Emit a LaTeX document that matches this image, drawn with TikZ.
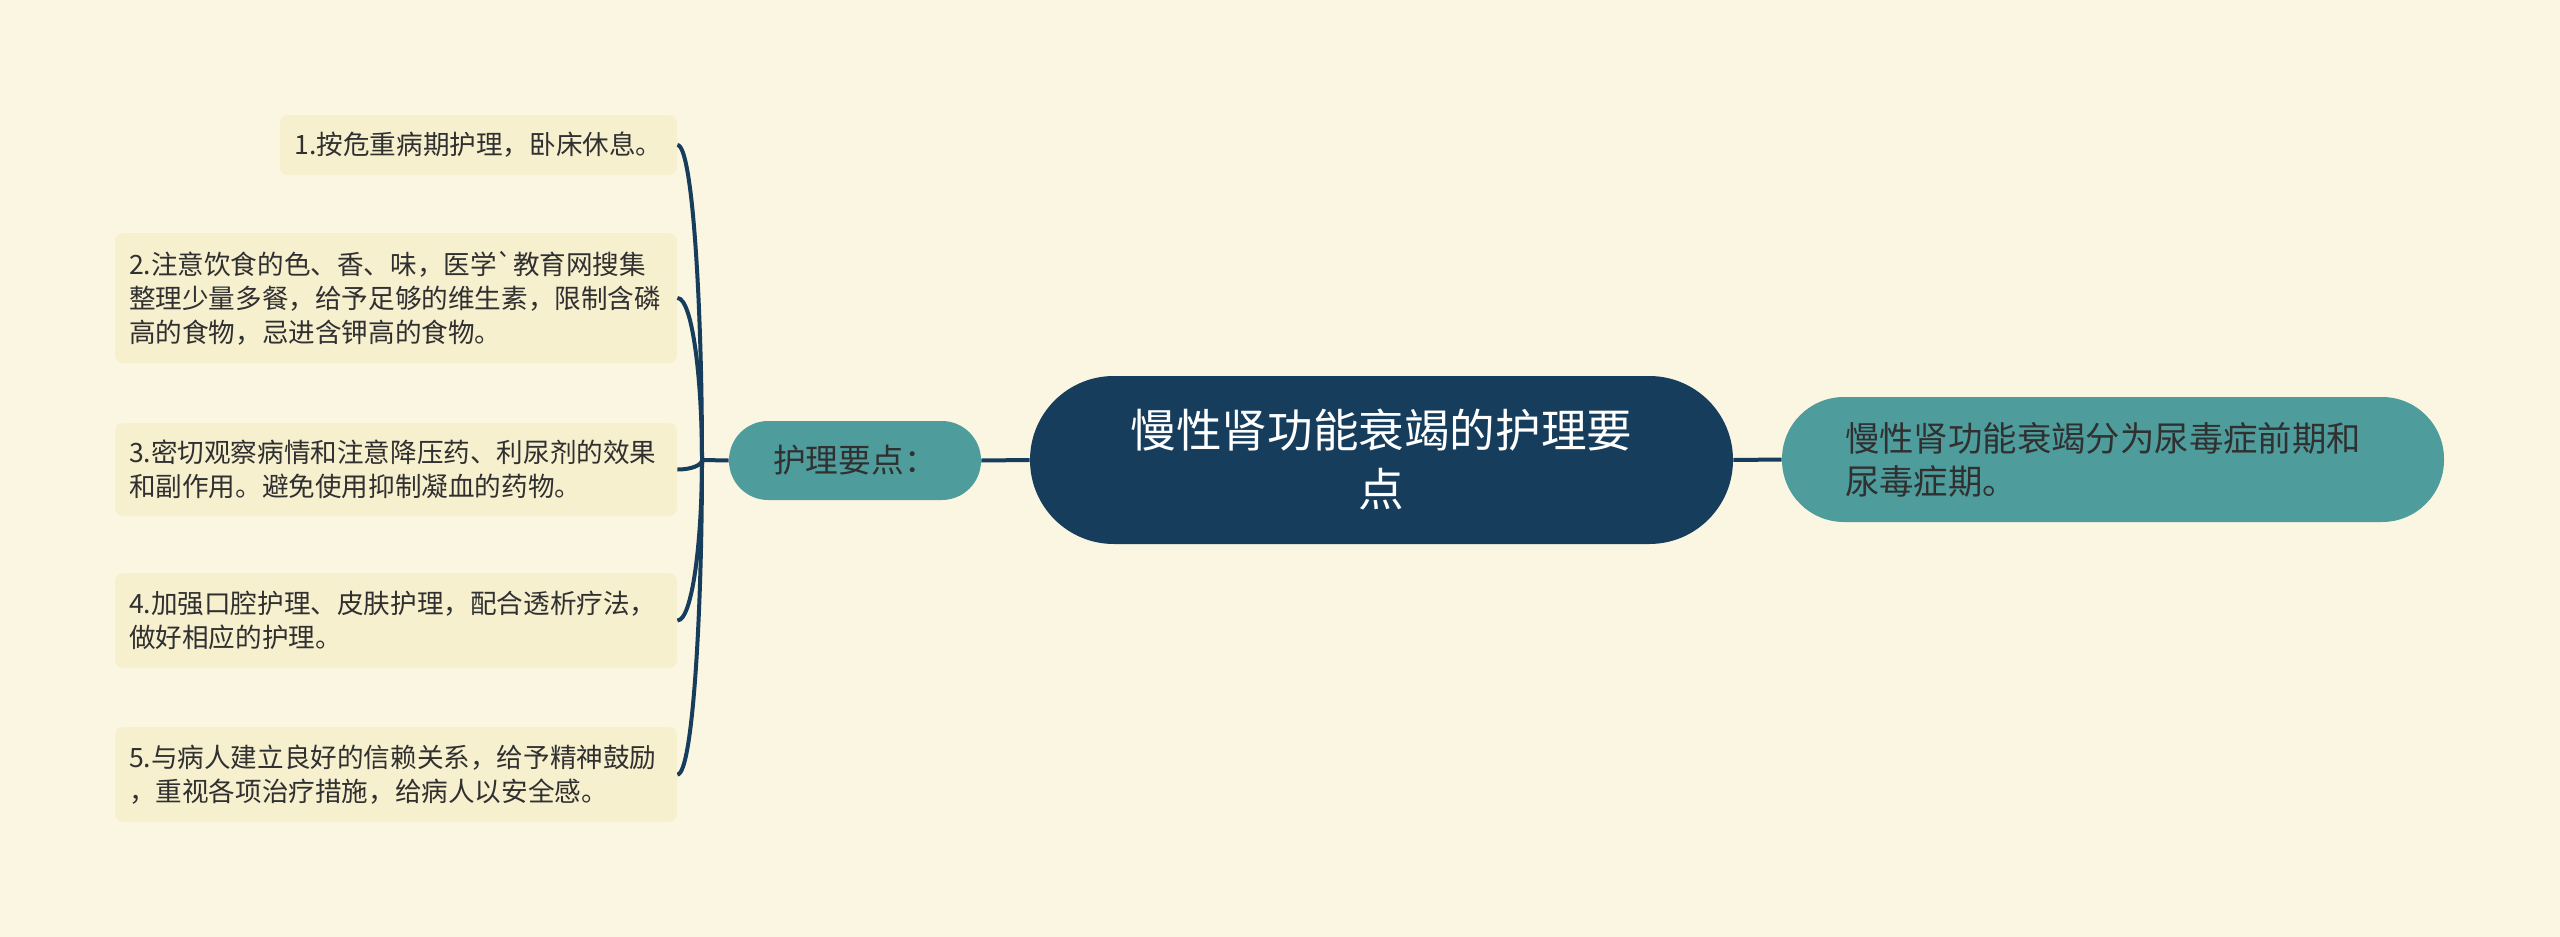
\documentclass[tikz,border=0pt]{standalone}
\usepackage{fontspec}
\setmainfont{Noto Sans CJK SC}
\newfontfamily\plainfont{Noto Sans CJK SC}
\definecolor{bgc}{HTML}{FBF6E1}
\definecolor{leafc}{HTML}{F6F0CF}
\definecolor{navy}{HTML}{173D5C}
\definecolor{teal}{HTML}{4E9C9C}
\definecolor{txt}{HTML}{303030}
\tikzset{
  conn/.style={draw=navy, line width=2pt},
  leaf/.style={fill=leafc, rounded corners=4pt, text=txt, inner sep=0pt,
    font=\fontsize{13.3pt}{17pt}\selectfont},
  leafwide/.style={leaf, align=left, text width=267pt, minimum width=281pt},
  rootbox/.style={fill=navy, rounded corners=41.9pt, text=white, inner sep=0pt,
    minimum width=351.5pt, minimum height=84pt, align=center,
    font=\fontsize{22.8pt}{29.5pt}\selectfont},
  subbox/.style={fill=teal, text=txt, inner sep=0pt}
}
\begin{document}
\begin{tikzpicture}[x=0.5pt,y=-0.5pt]
\useasboundingbox (0,0) rectangle (2560,937);
\fill[bgc] (0,0) rectangle (2560,937);

% root
\node[rootbox] (root) at (1381.5,460) {慢性肾功能衰竭的护理要\\点};

% right sub node
\node[subbox, rounded corners=31pt, minimum width=331pt, minimum height=62.5pt,
      text width=268pt, align=left, font=\fontsize{17.2pt}{21.5pt}\selectfont]
      (right) at (2113,459.5) {慢性肾功能衰竭分为尿毒症前期和\\尿毒症期。};

% left sub node
\node[subbox, rounded corners=19.6pt, minimum width=126pt, minimum height=39.5pt,
      align=center, font=\fontsize{16.35pt}{20pt}\selectfont]
      (key) at (855,460.5) {护理要点：};

% leaves
\node[leaf, minimum width=198.5pt, minimum height=30pt, align=center]
      (l1) at (478.5,145) {1.按危重病期护理，卧床休息。};
\node[leafwide, minimum height=65pt] (l2) at (396,298)
      {2.注意饮食的色、香、味，医学{\plainfont`}教育网搜集\\整理少量多餐，给予足够的维生素，限制含磷\\高的食物，忌进含钾高的食物。};
\node[leafwide, minimum height=46.5pt] (l3) at (396,469.5)
      {3.密切观察病情和注意降压药、利尿剂的效果\\和副作用。避免使用抑制凝血的药物。};
\node[leafwide, minimum height=47.5pt] (l4) at (396,620.5)
      {4.加强口腔护理、皮肤护理，配合透析疗法，\\做好相应的护理。};
\node[leafwide, minimum height=47.5pt] (l5) at (396,774.5)
      {5.与病人建立良好的信赖关系，给予精神鼓励\\，重视各项治疗措施，给病人以安全感。};

\coordinate (hub) at (702,460);

% connectors
\draw[conn] (root.west) -- (key.east);
\draw[conn] (root.east) -- (right.west);
\draw[conn] (key.west) -- (hub);
\draw[conn] (l1.east) .. controls +(15,0) and +(0,-157.5) .. (hub);
\draw[conn] (l2.east) .. controls +(15,0) and +(0,-81) .. (hub);
\draw[conn] (l3.east) .. controls +(15,0) and +(0,4.75) .. (hub);
\draw[conn] (l4.east) .. controls +(15,0) and +(0,80.25) .. (hub);
\draw[conn] (l5.east) .. controls +(15,0) and +(0,157.25) .. (hub);
\end{tikzpicture}
\end{document}
